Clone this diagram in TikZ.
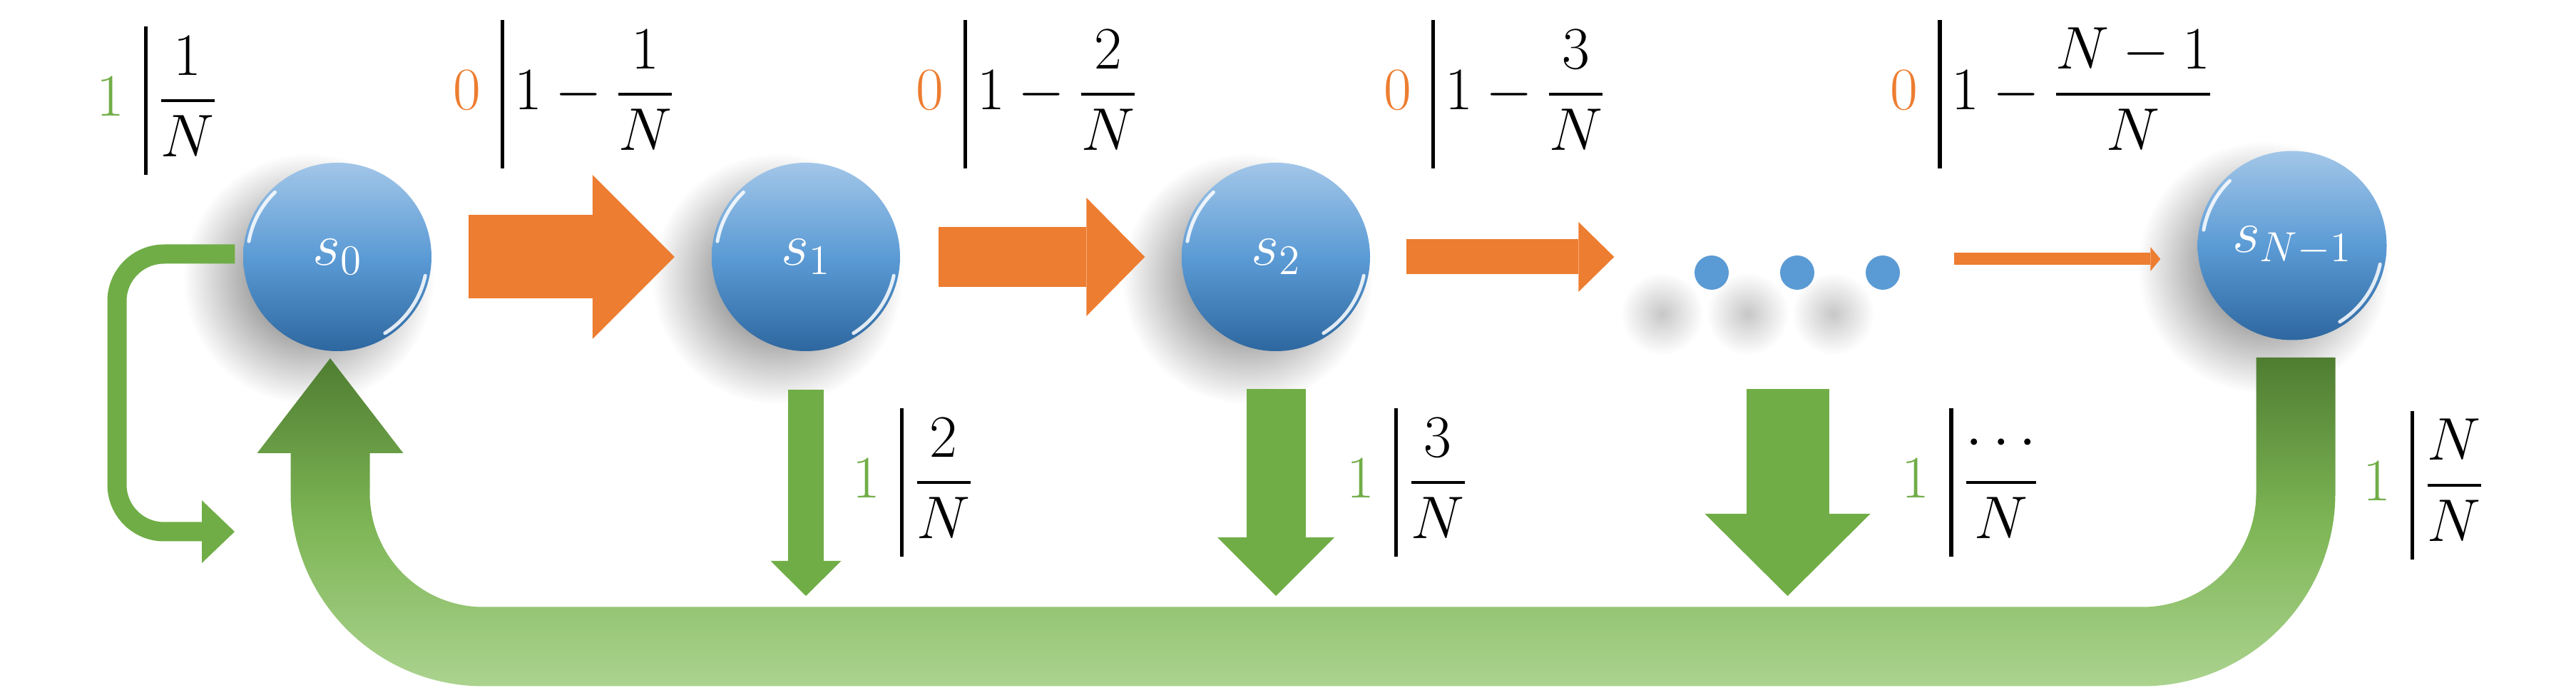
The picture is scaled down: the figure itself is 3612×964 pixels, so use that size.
\RequirePackage{fix-cm}
\documentclass[tikz,border=0pt]{standalone}
\usepackage{amsmath}
\usetikzlibrary{arrows.meta,calc,shadows,fadings}
\definecolor{ora}{HTML}{ED7D31}
\definecolor{gre}{HTML}{70AD47}
\definecolor{greD}{HTML}{4F7D31}
\definecolor{greM}{HTML}{7DB555}
\definecolor{greL}{HTML}{ABD38F}
\definecolor{blu}{HTML}{5B9BD5}
\definecolor{bluL}{HTML}{A2C6E8}
\definecolor{bluD}{HTML}{2E67A0}
\tikzfading[name=softshade,inner color=transparent!0,outer color=transparent!100]
\newcommand{\lbar}[2]{{#1}\hspace{8pt}\rule[-23.7pt]{1.5pt}{59.4pt}\hspace{4pt}#2} % bit | probability
\begin{document}
\begin{tikzpicture}[x=0.1mm,y=-0.1mm,font=\fontsize{24}{29}\selectfont,
	state/.style={circle,minimum size=26.4mm,inner sep=0pt,text=white,
		top color=bluL,bottom color=bluD,middle color=blu,
		circular drop shadow={shadow xshift=-3mm,shadow yshift=-2.3mm,shadow scale=1.33,
			opacity=.65,fill=black,path fading=softshade}},
	dotnode/.style={circle,minimum size=4.8mm,inner sep=0pt,fill=blu,
		circular drop shadow={shadow xshift=-2.9mm,shadow yshift=-2.4mm,shadow scale=2.4,
			opacity=.22,fill=black,path fading=softshade}},
	blk/.style n args={3}{line width=#1,-{Triangle[width=#2,length=#3,line width=0pt]}},
	gloss/.style={white,line width=.5mm,opacity=.85,line cap=round},
	lbl/.style={inner sep=1pt}]
	\useasboundingbox (0,0) rectangle (3612,964);
	%\draw[gray!30] (0,0) grid[step=100] (3612,964);
	\node[state] (s0) at (473,360) {$s_0$};
	\node[state] (s1) at (1130,360) {$s_1$};
	\node[state] (s2) at (1789,360) {$s_2$};
	\node[state,minimum size=26.5mm] (sN) at (3214,344) {$s_{N-1}$};
	\foreach \x [count=\i] in {2400,2520,2640} \node[dotnode] (d\i) at (\x,382) {};
	\foreach \n in {s0,s1,s2,sN} {
		\draw[gloss] ($(\n)+(190:126)$) arc[start angle=190,end angle=226,radius=126];
		\draw[gloss] ($(\n)+(12:126)$) arc[start angle=12,end angle=58,radius=126];
	}
	% 0 -> next state
	\draw[ora,blk={11.7mm}{23mm}{11.5mm},shorten <=5.1mm,shorten >=5.15mm] (s0)--(s1);
	\draw[ora,blk={8.4mm}{16.6mm}{8.2mm},shorten <=5.3mm,shorten >=5.1mm] (s1)--(s2);
	\draw[ora,blk={4.9mm}{9.8mm}{5mm},shorten <=5mm,shorten >=11.2mm] (s2.east)--(s2.east -| d1.west);
	\coordinate (o4) at ([yshift=1.9mm]d3.east);
	\draw[ora,blk={1.7mm}{3.4mm}{1.4mm},shorten <=7.5mm,shorten >=5.15mm] (o4)--(o4 -| sN.west);
	% 1 -> back to s0
	\coordinate (tips) at (0,835);
	\coordinate (p3) at ([xshift=-1.35mm]d2.south);
	\draw[gre,blk={5mm}{9.9mm}{4.9mm},shorten <=5.3mm] (s1.south)--(s1.south |- tips);
	\draw[gre,blk={8.3mm}{16.4mm}{8.2mm},shorten <=5.2mm] (s2.south)--(s2.south |- tips);
	\draw[gre,blk={11.6mm}{23.2mm}{11.5mm},shorten <=13.8mm] (p3)--(p3 |- tips);
	\coordinate (loopend) at (329,745);
	\draw[gre,line width=2.7mm,rounded corners=6.6mm,-{Triangle[width=8.8mm,length=4.6mm,line width=0pt]}]
		($(s0.west)+(-11,-4)$) -| ($(loopend)+(-165,0)$) -- (loopend);
	\def\Ro{270.5} \def\Ri{159.5} % outer / inner radius
	\shade[top color=greD,bottom color=greL,middle color=greM] (3274.5,501)--(3274.5,691)
		arc[start angle=0,end angle=90,radius=\Ro]--(678,961.5) arc[start angle=90,end angle=180,radius=\Ro]
		--(407.5,635)--(360.5,635)--(463,502)--(565.5,635)--(518.5,635)--(518.5,691)
		arc[start angle=180,end angle=90,radius=\Ri]--(3004,850.5) arc[start angle=90,end angle=0,radius=\Ri]
		--(3163.5,501)--cycle;
	% labels
	\node[lbl] (l0) at (220,141) {$\lbar{\color{gre}1}{\dfrac{1}{N}}$};
	\foreach \x/\k in {791/1,1440/2,2096/3} \node[lbl] (t\k) at (\x,132) {$\lbar{\color{ora}0}{1-\dfrac{\k}{N}}$};
	\node[lbl] (t4) at (2877,132) {$\lbar{\color{ora}0}{1-\dfrac{N-1}{N}}$};
	\foreach \x/\k [count=\i] in {1280/2,1973/3,2763/\cdots} \node[lbl] (b\i) at (\x,676) {$\lbar{\color{gre}1}{\dfrac{\k}{N}}$};
	\node[lbl] (b4) at (3398,680) {$\lbar{\color{gre}1}{\dfrac{N}{N}}$};
\end{tikzpicture}
\end{document}
